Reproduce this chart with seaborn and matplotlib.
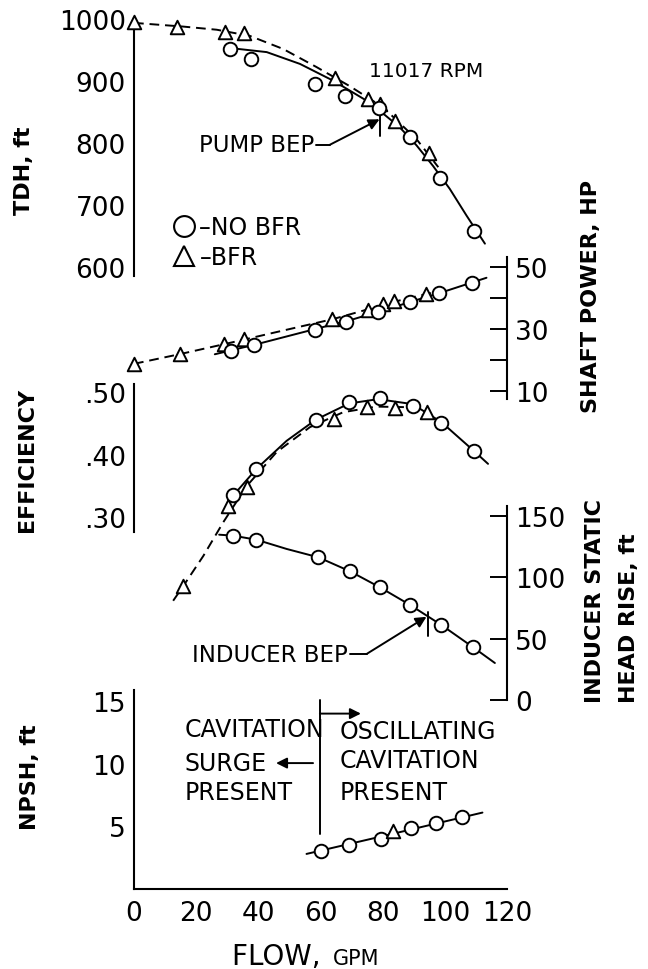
import matplotlib
matplotlib.use('Agg')
import matplotlib.pyplot as plt
import seaborn as sns
from matplotlib.lines import Line2D

sns.set_theme(style='white')
plt.rcParams['font.family'] = ['DejaVu Sans']
plt.rcParams['text.color'] = 'black'

# ---- values (flow in GPM) ----
# TDH, ft
tdh_nobfr_flow = [30.9, 37.8, 58.2, 67.8, 78.9, 88.9, 98.5, 109.5]
tdh_nobfr = [951, 935, 895, 875, 856, 809, 743, 659]
tdh_bfr_flow = [0, 13.9, 29.3, 35.5, 64.6, 75.3, 79.1, 83.9, 95.0]
tdh_bfr = [995, 987, 979, 976, 905, 871, 862, 836, 784]
tdh_nobfr_fit_flow = [31.9, 42.7, 53.4, 64.1, 74.8, 80.2, 85.5, 90.9, 96.2, 101.6, 107.0, 112.9]
tdh_nobfr_fit = [952, 946, 927, 900, 868, 847, 825, 796, 763, 726, 683, 638]
tdh_bfr_fit_flow = [0, 15.9, 26.6, 37.3, 48.0, 58.7, 69.5, 80.2, 90.9, 97.9]
tdh_bfr_fit = [993, 987, 982, 972, 951, 922, 891, 857, 806, 761]

# shaft power, HP
hp_nobfr_flow = [31.1, 38.6, 58.2, 68.2, 78.6, 88.7, 98.2, 108.9]
hp_nobfr = [23.0, 24.9, 29.7, 32.4, 35.4, 38.7, 41.7, 44.9]
hp_bfr_flow = [0, 14.8, 29.0, 35.4, 63.8, 75.4, 80.0, 83.6, 93.9]
hp_bfr = [18.7, 21.9, 25.1, 26.8, 33.2, 36.2, 38.1, 39.0, 41.3]
hp_nobfr_fit_flow = [26.0, 40.0, 58.0, 70.0, 80.0, 90.0, 100.0, 113.4]
hp_nobfr_fit = [21.8, 25.2, 29.9, 33.0, 36.0, 39.1, 42.2, 46.6]
hp_bfr_fit_flow = [0, 15.0, 30.0, 45.0, 64.0, 75.0, 84.0, 96.0]
hp_bfr_fit = [18.7, 21.9, 25.3, 28.8, 33.2, 36.3, 38.9, 41.8]

# efficiency
eff_nobfr_flow = [31.9, 39.4, 58.5, 69.2, 79.1, 89.6, 98.9, 109.3]
eff_nobfr = [0.335, 0.377, 0.456, 0.484, 0.491, 0.478, 0.451, 0.406]
eff_bfr_flow = [15.9, 30.3, 36.2, 64.3, 75.0, 83.9, 94.3]
eff_bfr = [0.189, 0.318, 0.347, 0.457, 0.477, 0.474, 0.468]
eff_nobfr_fit_flow = [29.3, 31.9, 39.4, 49.1, 58.5, 69.2, 78.5, 89.6, 98.9, 109.3, 113.9]
eff_nobfr_fit = [0.312, 0.334, 0.377, 0.422, 0.456, 0.482, 0.489, 0.481, 0.452, 0.406, 0.385]
eff_bfr_fit_flow = [12.6, 15.9, 22.3, 28.7, 36.2, 45.9, 56.6, 67.3, 78.0, 88.7, 95.2]
eff_bfr_fit = [0.165, 0.189, 0.237, 0.291, 0.349, 0.404, 0.444, 0.468, 0.477, 0.476, 0.468]

# inducer static head rise, ft
ind_flow = [31.9, 39.4, 59.3, 69.5, 79.1, 88.7, 98.9, 109.1]
ind_rise = [133.7, 130.4, 116.1, 104.7, 91.7, 77.5, 61.0, 42.9]
ind_fit_flow = [27.4, 31.9, 39.4, 49.1, 59.3, 69.5, 79.1, 88.7, 98.9, 109.1, 116.1]
ind_fit = [134.5, 133.7, 130.4, 122.9, 116.1, 104.7, 91.7, 77.5, 61.0, 42.9, 30.1]

# NPSH, ft
npsh_nobfr_flow = [60.0, 69.2, 79.6, 89.0, 97.0, 105.4]
npsh_nobfr = [3.06, 3.5, 4.0, 4.84, 5.27, 5.72]
npsh_bfr_flow = [83.4]
npsh_bfr = [4.65]
npsh_fit_flow = [55.5, 84.0, 112.1]
npsh_fit = [2.8, 4.45, 6.1]

flow_ticks = [0, 20, 40, 60, 80, 100, 120]
tdh_ticks = [600, 700, 800, 900, 1000]
hp_ticks = [10, 20, 30, 40, 50]
hp_labels = ['10', '', '30', '', '50']
eff_ticks = [0.30, 0.40, 0.50]
eff_labels = ['.30', '.40', '.50']
ind_ticks = [0, 50, 100, 150]
npsh_ticks = [5, 10, 15]

# ---- layout (pixels of a 648x970 canvas) ----
W, H = 648, 970
X0, X1 = 134, 507
LW = 1.4
DASH = (0, (5, 3))
TICK_FS = 19
NOTE_FS = 16.5

fig = plt.figure(figsize=(6.48, 9.70), dpi=100)


def panel(lo, hi, py_lo, py_hi, side):
    ax = fig.add_axes([X0 / W, 1 - py_lo / H, (X1 - X0) / W, (py_lo - py_hi) / H])
    ax.set_xlim(0, 120)
    ax.set_ylim(lo, hi)
    ax.patch.set_alpha(0)
    for s in ax.spines.values():
        s.set_visible(False)
    ax.spines[side].set_visible(True)
    ax.spines[side].set_linewidth(1.5)
    ax.spines[side].set_color('black')
    ax.set_xticks([])
    if side == 'right':
        ax.yaxis.tick_right()
    ax.tick_params(axis='y', direction='in', length=12, width=1.4, labelsize=TICK_FS, pad=6,
                   colors='black')
    ax.grid(False)
    return ax


def draw(ax, fit_x, fit_y, px, py, marker, dashed):
    sns.lineplot(x=fit_x, y=fit_y, ax=ax, color='black', lw=LW,
                 linestyle=DASH if dashed else '-', sort=False, estimator=None,
                 clip_on=False, zorder=2)
    sns.scatterplot(x=px, y=py, ax=ax, marker=marker, s=95, facecolor='white',
                    edgecolor='black', linewidth=1.4, clip_on=False, zorder=3)


def arrow(ax, start, end):
    ax.annotate('', xy=end, xytext=start,
                arrowprops=dict(arrowstyle='-|>', color='black', lw=LW,
                                mutation_scale=16, shrinkA=0, shrinkB=0))


# TDH
ax_tdh = panel(586, 1001, 277, 18.9, 'left')
ax_tdh.set_yticks(tdh_ticks)
draw(ax_tdh, tdh_bfr_fit_flow, tdh_bfr_fit, tdh_bfr_flow, tdh_bfr, '^', True)
draw(ax_tdh, tdh_nobfr_fit_flow, tdh_nobfr_fit, tdh_nobfr_flow, tdh_nobfr, 'o', False)
ax_tdh.text(75.5, 916, '11017 RPM', fontsize=14.5, ha='left', va='center')
ax_tdh.text(21.0, 797, 'PUMP BEP', fontsize=NOTE_FS, ha='left', va='center')
ax_tdh.plot([58.5, 63.0], [797, 797], color='black', lw=LW)
arrow(ax_tdh, (63.0, 797), (79.0, 838))
ax_tdh.plot([79.3, 79.3], [811, 843], color='black', lw=LW)
handles = [Line2D([], [], marker='o', ls='none', mfc='white', mec='black', ms=15, mew=1.5),
           Line2D([], [], marker='^', ls='none', mfc='white', mec='black', ms=15, mew=1.5)]
ax_tdh.legend(handles, ['–NO BFR', '–BFR'], loc='center left',
              bbox_to_anchor=(12.7, 640), bbox_transform=ax_tdh.transData,
              frameon=False, fontsize=17, handlelength=0.9, handletextpad=0.2,
              labelspacing=0.25, borderpad=0, borderaxespad=0)

# shaft power
ax_hp = panel(7.3, 53.3, 400.0, 258.1, 'right')
ax_hp.set_yticks(hp_ticks, labels=hp_labels)
draw(ax_hp, hp_bfr_fit_flow, hp_bfr_fit, hp_bfr_flow, hp_bfr, '^', True)
draw(ax_hp, hp_nobfr_fit_flow, hp_nobfr_fit, hp_nobfr_flow, hp_nobfr, 'o', False)

# efficiency
ax_eff = panel(0.275, 0.513, 533.3, 385.2, 'left')
ax_eff.set_yticks(eff_ticks, labels=eff_labels)
draw(ax_eff, eff_bfr_fit_flow, eff_bfr_fit, eff_bfr_flow, eff_bfr, '^', True)
draw(ax_eff, eff_nobfr_fit_flow, eff_nobfr_fit, eff_nobfr_flow, eff_nobfr, 'o', False)

# inducer static head rise
ax_ind = panel(0, 158, 701, 506.8, 'right')
ax_ind.set_yticks(ind_ticks)
draw(ax_ind, ind_fit_flow, ind_fit, ind_flow, ind_rise, 'o', False)
ax_ind.text(18.5, 37.4, 'INDUCER BEP', fontsize=NOTE_FS, ha='left', va='center')
ax_ind.plot([69.5, 74.8], [37.4, 37.4], color='black', lw=LW)
arrow(ax_ind, (74.8, 37.4), (94.1, 67.7))
ax_ind.plot([94.5, 94.5], [52, 72], color='black', lw=LW)

# NPSH
ax_np = panel(0, 15.9, 890, 690.8, 'left')
ax_np.set_yticks(npsh_ticks)
ax_np.spines['bottom'].set_visible(True)
ax_np.spines['bottom'].set_linewidth(1.5)
ax_np.spines['bottom'].set_color('black')
ax_np.set_xticks(flow_ticks)
ax_np.tick_params(axis='x', direction='in', length=12, width=1.4, labelsize=TICK_FS, pad=8,
                  colors='black')
draw(ax_np, npsh_fit_flow, npsh_fit, npsh_nobfr_flow, npsh_nobfr, 'o', False)
sns.scatterplot(x=npsh_bfr_flow, y=npsh_bfr, ax=ax_np, marker='^', s=95, facecolor='white',
                edgecolor='black', linewidth=1.4, clip_on=False, zorder=4)
ax_np.plot([59.8, 59.8], [4.4, 15.1], color='black', lw=LW)
arrow(ax_np, (59.8, 14.0), (73.0, 14.0))
arrow(ax_np, (57.6, 10.05), (45.7, 10.05))
for txt, yv in [('CAVITATION', 12.77), ('SURGE', 10.06), ('PRESENT', 7.74)]:
    ax_np.text(16.4, yv, txt, fontsize=17, ha='left', va='center')
for txt, yv in [('OSCILLATING', 12.6), ('CAVITATION', 10.3), ('PRESENT', 7.74)]:
    ax_np.text(66.2, yv, txt, fontsize=17, ha='left', va='center')

# axis titles
lab = dict(rotation=90, ha='center', va='bottom', fontsize=16, fontweight='bold')
fig.text(24 / W, 1 - 215 / H, 'TDH, ft', **lab)
fig.text(27 / W, 1 - 532 / H, 'EFFICIENCY', **lab)
fig.text(30 / W, 1 - 830 / H, 'NPSH, ft', **lab)
fig.text(591 / W, 1 - 413 / H, 'SHAFT POWER, HP', **lab)
fig.text(595 / W, 1 - 703 / H, 'INDUCER STATIC', **lab)
fig.text(629 / W, 1 - 703 / H, 'HEAD RISE, ft', **lab)
fig.text(330 / W, 1 - 965 / H, 'FLOW, ', fontsize=20, ha='right', va='baseline')
fig.text(333 / W, 1 - 965 / H, 'GPM', fontsize=15, ha='left', va='baseline')

fig.savefig('out.png', dpi=100)
